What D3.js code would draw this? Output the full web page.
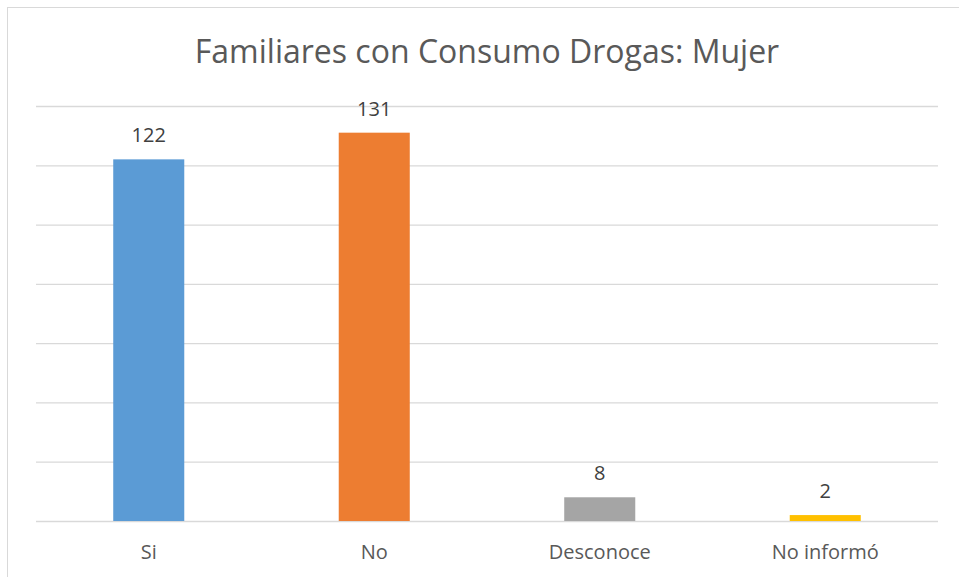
<!DOCTYPE html>
<html><head><meta charset="utf-8">
<script src="https://cdn.jsdelivr.net/npm/d3@7"></script>
<style>body{margin:0;background:#fff}svg{display:block}</style>
</head><body>
<script>
const categories = ["Si", "No", "Desconoce", "No informó"];
const values = [122, 131, 8, 2];
const colors = ["#5B9BD5", "#ED7D31", "#A5A5A5", "#FFC000"];
const yTicks = [0, 20, 40, 60, 80, 100, 120, 140];
const title = "Familiares con Consumo Drogas: Mujer";

const W = 959, H = 577;
const m = {left: 36, right: 21, top: 106, bottom: 56};
const font = "'Open Sans', 'Noto Sans', sans-serif";
const svg = d3.select("body").append("svg").attr("width", W).attr("height", H);
svg.append("rect").attr("x", 7.5).attr("y", 7.5).attr("width", W + 10).attr("height", H + 10)
  .attr("fill", "#fff").attr("stroke", "#d9d9d9").attr("stroke-width", 1);

const x = d3.scaleBand().domain(categories).range([m.left, W - m.right]).paddingInner(0.685).paddingOuter(0.3425);
const y = d3.scaleLinear().domain([0, 140]).range([H - m.bottom, m.top]);

const grid = svg.append("g").attr("transform", `translate(${m.left},0)`)
  .call(d3.axisLeft(y).tickValues(yTicks).tickSize(-(W - m.left - m.right)).tickFormat(""));
grid.select(".domain").remove();
grid.selectAll("line").attr("stroke", "#d9d9d9").attr("stroke-width", 1.3);

svg.selectAll("rect.bar").data(values).join("rect").attr("class", "bar")
  .attr("x", (d, i) => x(categories[i])).attr("width", x.bandwidth())
  .attr("y", d => y(d)).attr("height", d => y(0) - y(d))
  .attr("fill", (d, i) => colors[i]);

svg.selectAll("text.val").data(values).join("text").attr("class", "val")
  .attr("x", (d, i) => x(categories[i]) + x.bandwidth() / 2).attr("y", d => y(d) - 17)
  .attr("text-anchor", "middle").attr("font-family", font).attr("font-size", 20).attr("fill", "#404040")
  .text(d => d);

const xa = svg.append("g").attr("transform", `translate(0,${y(0)})`)
  .call(d3.axisBottom(x).tickSize(0).tickPadding(24));
xa.select(".domain").remove();
xa.selectAll("text").attr("font-family", font).attr("font-size", 20).attr("fill", "#595959");

svg.append("text").attr("x", 487).attr("y", 63).attr("text-anchor", "middle")
  .attr("font-family", font).attr("font-size", 32).attr("fill", "#595959").text(title);
</script>
</body></html>
